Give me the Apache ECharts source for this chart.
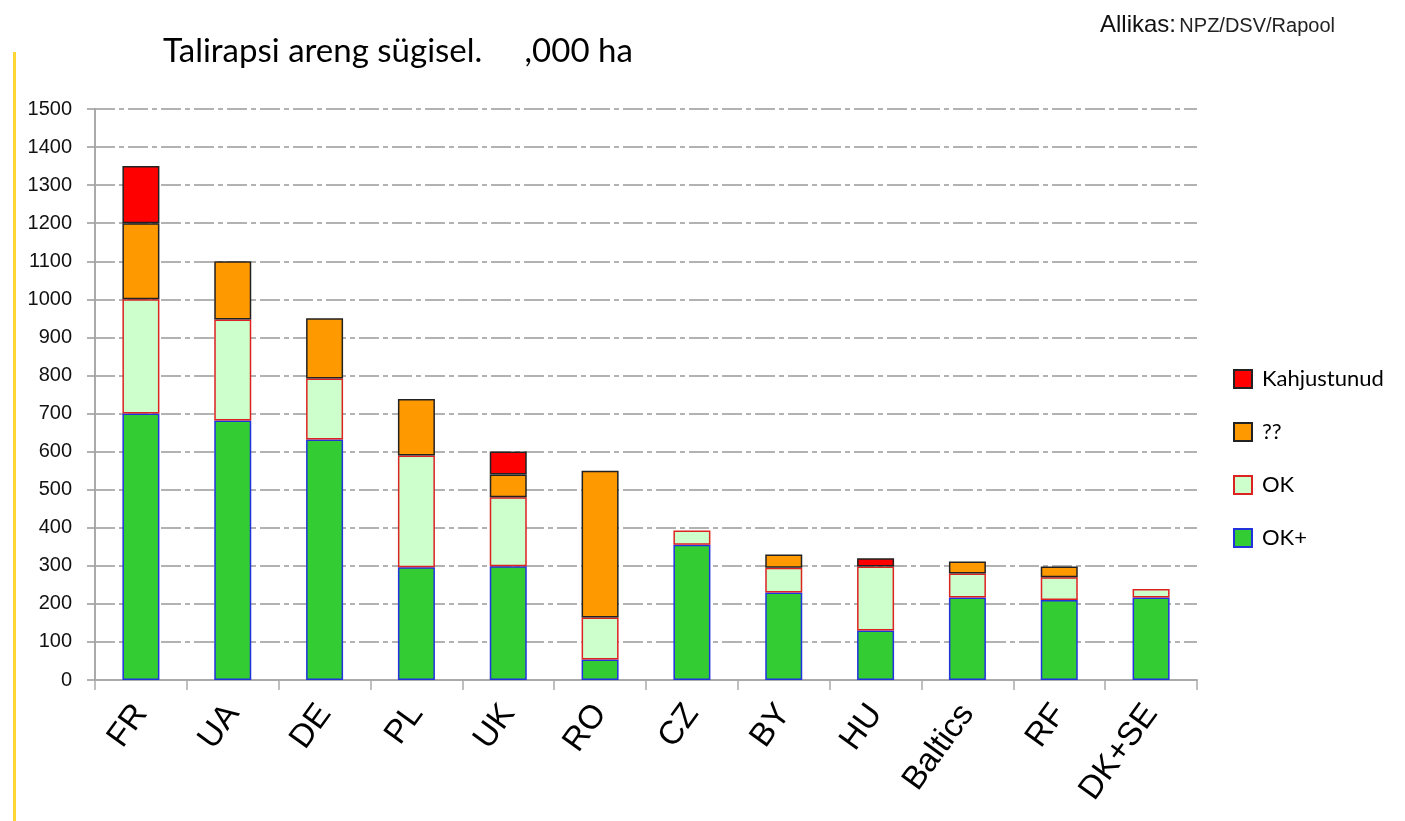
<!DOCTYPE html>
<html>
<head>
<meta charset="utf-8">
<script src="https://cdn.jsdelivr.net/npm/echarts@6/dist/echarts.min.js"></script>
<style>
  html, body { margin: 0; padding: 0; background: #fff; }
  #chart { width: 1405px; height: 821px; }
</style>
</head>
<body>
<div id="chart"></div>
<script>
// riigid
var categories = ['FR', 'UA', 'DE', 'PL', 'UK', 'RO', 'CZ', 'BY', 'HU', 'Baltics', 'RF', 'DK+SE']
// ,000 ha, virnastatud alt üles
var okPlus = [700, 682, 632, 296, 299, 54, 355, 230, 130, 217, 210, 217]
var ok = [300, 265, 160, 294, 181, 110, 38, 65, 168, 63, 60, 22]
var unknown = [200, 153, 158, 148, 60, 386, '-', 35, '-', 31, 28, '-']
var damaged = [150, '-', '-', '-', 60, '-', '-', '-', 22, '-', '-', '-']
var yTicks = [0, 1500, 100]

var chart = echarts.init(document.getElementById('chart'))

function barSeries (name, data, color, border) {
  return {
    name: name,
    type: 'bar',
    stack: 'total',
    barWidth: 37,
    data: data,
    itemStyle: {
      color: color,
      borderColor: border,
      borderWidth: 1.5
    },
    emphasis: { disabled: true }
  }
}

var option = {
  animation: false,
  title: {
    text: 'Talirapsi areng sügisel.     ,000 ha',
    left: 158,
    top: 30,
    textStyle: {
      fontFamily: 'Lato',
      fontWeight: 'normal',
      fontSize: 33,
      color: '#000'
    }
  },
  legend: {
    orient: 'vertical',
    left: 1233,
    top: 368,
    padding: 0,
    itemWidth: 18,
    itemHeight: 18,
    itemGap: 31,
    icon: 'rect',
    data: ['Kahjustunud', '??', 'OK', 'OK+'],
    textStyle: {
      fontFamily: 'Lato',
      fontSize: 22,
      color: '#000',
      padding: [0, 0, 0, 5]
    }
  },
  grid: {
    left: 95,
    right: 208,
    top: 109,
    bottom: 141
  },
  xAxis: {
    type: 'category',
    data: categories,
    axisLine: { lineStyle: { color: '#aaa', width: 2 } },
    axisTick: { show: true, length: 10, interval: 0, lineStyle: { color: '#aaa', width: 1.5 } },
    axisLabel: {
      interval: 0,
      rotate: 54,
      margin: 28,
      fontFamily: 'Liberation Sans',
      fontSize: 33,
      color: '#000'
    }
  },
  yAxis: {
    type: 'value',
    min: yTicks[0],
    max: yTicks[1],
    interval: yTicks[2],
    axisLine: { show: true, lineStyle: { color: '#aaa', width: 2 } },
    axisTick: { show: true, length: 8, lineStyle: { color: '#999', width: 1.5 } },
    axisLabel: {
      margin: 23,
      formatter: function (v) { return String(v) },
      fontFamily: 'Liberation Sans',
      fontSize: 20,
      color: '#111'
    },
    splitLine: {
      lineStyle: { color: '#999', width: 1.5, type: [20, 4, 5, 4] }
    }
  },
  series: [
    barSeries('OK+', okPlus, '#33cc33', '#2233dd'),
    barSeries('OK', ok, '#ccffcc', '#dd2222'),
    barSeries('??', unknown, '#ff9900', '#222222'),
    barSeries('Kahjustunud', damaged, '#ff0000', '#222222')
  ],
  graphic: [
    {
      type: 'rect',
      shape: { x: 13, y: 52, width: 3, height: 769 },
      style: { fill: '#ffd633' }
    },
    {
      type: 'text',
      left: 1100,
      top: 13,
      style: {
        text: '{a|Allikas:} {b|NPZ/DSV/Rapool}',
        rich: {
          a: { fontFamily: 'Liberation Sans', fontSize: 24, fill: '#111' },
          b: { fontFamily: 'Liberation Sans', fontSize: 20, fill: '#222', padding: [3, 0, 0, 0] }
        }
      }
    }
  ]
}

chart.setOption(option)
</script>
</body>
</html>
